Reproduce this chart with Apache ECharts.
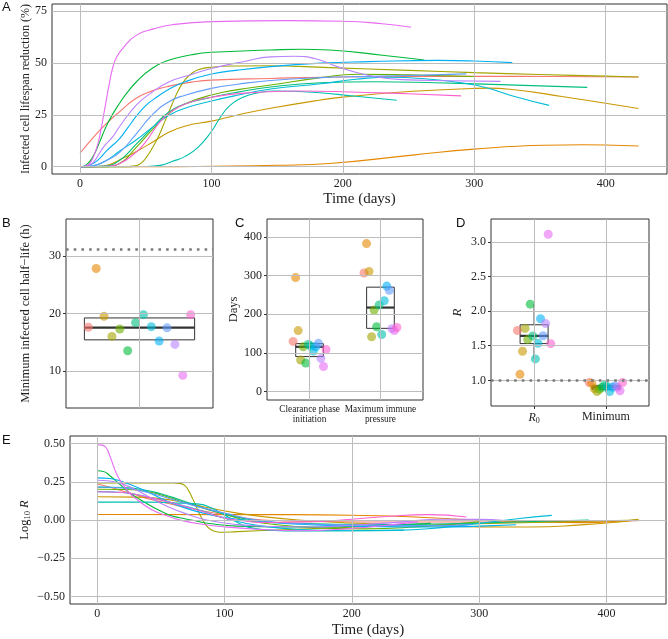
<!DOCTYPE html>
<html><head><meta charset="utf-8">
<script src="https://cdn.jsdelivr.net/npm/echarts@6/dist/echarts.min.js"></script>
<style>html,body{margin:0;padding:0;background:#fff}#c{width:668px;height:639px}</style>
</head><body><div id="c"></div>
<script>
// ---------- DATA ----------
const patientColors = ['#F8766D','#E58700','#C99800','#A3A500','#6BB100','#00BA38','#00BF7D','#00C0AF','#00BCD8','#00B0F6','#619CFF','#B983FF','#E76BF3','#FD61D1'];
// Panel B
const minHalfLife = [17.6,27.85,19.5,16.0,17.3,13.5,18.4,19.8,17.7,15.2,17.5,14.6,9.2,19.8];
const baselineHalfLife = 31.2;
// Panel C
const cCategories = ['Clearance phase\ninitiation','Maximum immune\npressure'];
const clearanceDays = [130,295,158,82,116,74,122,118,105,116,125,86,65,109];
const maxPressureDays = [307,383,311,142,211,168,224,148,235,273,262,163,158,166];
// Panel D
const dCategories = ['R0','Minimum'];
const R0 = [1.72,1.087,1.42,1.75,1.59,2.10,1.64,1.31,1.535,1.89,1.645,1.82,3.11,1.53];
const Rmin = [0.97,0.96,0.88,0.84,0.87,0.90,0.93,0.91,0.84,0.90,0.92,0.90,0.85,0.97];
const Rthreshold = 1.0;
// Tick values
const timeTicks = [0,100,200,300,400];
const aTicks = [0,25,50,75];
const bTicks = [10,20,30];
const cTicks = [0,100,200,300,400];
const dTicks = [1.0,1.5,2.0,2.5,3.0];
const eTicks = [-0.5,-0.25,0,0.25,0.5];

// Panel A: infected cell lifespan reduction (%) per patient, [day, value]
const lifespanP01 = [[0,6.5],[10,14],[20,20.8],[30,26.5],[43,33.2],[55,36.6],[68,38.9],[85,40.8],[100,41.8],[145,42.6],[185,43.2],[250,43.5],[307,43.6],[360,43.5],[425,43.3]];
const lifespanP02 = [[0,0],[60,0],[100,0.2],[150,0.7],[190,1.6],[253,5.6],[300,8.5],[353,10.4],[383,10.6],[400,10.5],[425,10]];
const lifespanP03 = [[0,0],[12,0.1],[20,0.6],[30,3.3],[43,7.4],[56,12.2],[68,16.8],[81,19.8],[100,22],[120,25],[145,28.2],[183,32.2],[200,33.6],[253,36.4],[300,37.8],[311,37.9],[327,37.4],[368,33.8],[400,30.6],[425,28.1]];
const lifespanP04 = [[0,0],[35,0],[42,0.4],[47,2],[51,5],[55,9],[60,15],[65,22.5],[70,30],[75,37],[80,42],[85,45],[90,46.8],[100,48],[120,48.6],[142,48.7],[190,47.8],[250,46.5],[300,45.4],[350,44.5],[400,43.7],[425,43.3]];
const lifespanP05 = [[0,0],[18,0],[30,1.6],[43,9.5],[56,18.5],[68,25.8],[81,30.6],[100,34.6],[120,37.2],[145,39.4],[183,43],[211,44.6],[250,44.3],[300,43.5]];
const lifespanP06 = [[0,0],[5,1],[10,5],[15,12],[20,19.5],[25,25.5],[30,30.5],[35,35],[43,41],[55,47.5],[68,51.5],[85,54],[100,55.2],[145,56.3],[168,56.7],[190,56.3],[230,53.8],[262,51.5]];
const lifespanP07 = [[0,0],[18,0.3],[30,3],[43,11],[56,19.5],[68,26.5],[81,30.5],[100,33.5],[120,36],[145,38.5],[183,40.5],[224,41],[270,40.5],[320,39.6],[386,38.3]];
const lifespanP08 = [[0,0],[50,0.1],[62,0.8],[70,2.5],[80,5],[90,9.5],[100,17],[107,24],[114,29.5],[124,33.5],[135,35.6],[148,36.5],[180,35.8],[210,34],[241,32.1]];
const lifespanP09 = [[0,0],[10,0.5],[20,3],[30,7.5],[43,13],[56,19.5],[68,25],[81,28.5],[100,31.7],[120,34.5],[145,37.5],[183,40],[210,42.2],[235,43.2],[260,42.6],[290,40.5],[310,38],[330,34],[357,29.6]];
const lifespanP10 = [[0,0],[5,0.3],[10,1.5],[15,4],[20,7.5],[30,13.5],[36,18.5],[43,24.5],[50,29.5],[56,32.5],[68,37.5],[80,41],[100,44.7],[120,46.6],[145,48.3],[183,50],[220,50.7],[273,51.3],[300,51],[329,50.2]];
const lifespanP11 = [[0,0],[10,0.5],[20,3],[30,6.8],[43,16],[55,25],[68,31.5],[80,34.5],[100,37.8],[120,39.8],[145,41.6],[183,43],[220,43.6],[262,44.2],[294,44.8]];
const lifespanP12 = [[0,0],[5,0.5],[10,2],[18,9.6],[25,14.5],[30,19.3],[43,29.8],[55,36],[68,41],[85,44.5],[100,47.4],[125,50.8],[145,53],[163,53.3],[180,52],[198,47.8],[220,44],[245,42],[280,41.5],[320,41.2]];
const lifespanP13 = [[0,0],[5,0.5],[8,2],[11,6],[14,12],[16,18],[18,25],[20,32],[22,39],[25,48],[28,53],[33,57.5],[43,63.5],[56,66.5],[70,68.5],[100,70],[158,70.5],[200,70.2],[230,69],[252,67.3]];
const lifespanP14 = [[0,0],[20,0.2],[30,1.5],[43,7.2],[50,12],[56,17.5],[62,22.5],[68,26],[81,30.5],[100,33.5],[125,35.5],[166,36.5],[200,36.2],[250,35.2],[290,34.2]];

// Panel E: log10 R per patient, [day, value]
const logRP01 = [[0,0.236],[10,0.215],[20,0.19],[30,0.165],[40,0.14],[60,0.1],[80,0.065],[100,0.035],[130,0],[170,-0.01],[250,-0.013],[307,-0.013],[360,-0.01],[425,-0.004]];
const logRP02 = [[0,0.036],[150,0.035],[200,0.031],[250,0.02],[295,0],[340,-0.012],[383,-0.017],[410,-0.008],[425,0.002]];
const logRP03 = [[0,0.152],[30,0.15],[50,0.14],[70,0.112],[90,0.075],[110,0.045],[130,0.022],[158,0],[200,-0.02],[250,-0.035],[300,-0.045],[340,-0.046],[380,-0.032],[410,-0.012],[425,0.004]];
const logRP04 = [[0,0.243],[60,0.243],[65,0.24],[69,0.225],[72,0.19],[75,0.14],[78,0.085],[81,0.03],[84,-0.015],[87,-0.048],[91,-0.07],[96,-0.08],[110,-0.076],[142,-0.065],[200,-0.047],[250,-0.035],[300,-0.025],[350,-0.015],[400,-0.005],[425,0]];
const logRP05 = [[0,0.201],[20,0.2],[35,0.192],[50,0.165],[65,0.125],[80,0.085],[100,0.038],[116,0],[140,-0.03],[170,-0.05],[211,-0.058],[250,-0.045],[300,-0.012]];
const logRP06 = [[0,0.322],[5,0.318],[10,0.29],[17,0.24],[25,0.18],[30,0.153],[43,0.089],[56,0.035],[65,0.015],[74,0],[90,-0.025],[110,-0.04],[168,-0.046],[210,-0.04],[262,-0.022]];
const logRP07 = [[0,0.215],[20,0.212],[35,0.2],[50,0.172],[65,0.132],[80,0.088],[100,0.04],[122,0],[150,-0.02],[224,-0.03],[300,-0.02],[386,0]];
const logRP08 = [[0,0.117],[40,0.117],[60,0.112],[80,0.104],[90,0.078],[98,0.042],[105,0.01],[112,-0.025],[120,-0.05],[135,-0.066],[160,-0.072],[200,-0.07],[241,-0.066]];
const logRP09 = [[0,0.186],[20,0.18],[40,0.15],[60,0.11],[80,0.065],[105,0],[130,-0.04],[160,-0.062],[200,-0.07],[235,-0.068],[270,-0.05],[300,-0.022],[330,0.008],[357,0.03]];
const logRP10 = [[0,0.276],[10,0.272],[20,0.25],[30,0.22],[43,0.17],[56,0.12],[70,0.076],[85,0.042],[100,0.016],[116,0],[150,-0.025],[200,-0.04],[273,-0.046],[300,-0.04],[329,-0.031]];
const logRP11 = [[0,0.216],[20,0.21],[40,0.18],[60,0.132],[80,0.086],[100,0.045],[125,0],[160,-0.025],[200,-0.033],[262,-0.036],[294,-0.03]];
const logRP12 = [[0,0.26],[10,0.255],[20,0.235],[30,0.2],[43,0.14],[55,0.09],[70,0.04],[86,0],[110,-0.03],[140,-0.043],[163,-0.046],[200,-0.035],[240,-0.012],[270,0.005],[300,0.004],[320,-0.004]];
const logRP13 = [[0,0.493],[4,0.49],[7,0.475],[10,0.42],[13,0.35],[16,0.29],[20,0.235],[25,0.18],[30,0.142],[43,0.067],[56,0.024],[65,0],[80,-0.025],[100,-0.045],[130,-0.062],[158,-0.07],[200,-0.055],[230,-0.032],[252,-0.012]];
const logRP14 = [[0,0.185],[20,0.18],[40,0.15],[60,0.11],[80,0.062],[109,0],[140,-0.016],[166,-0.013],[200,0.005],[230,0.025],[260,0.035],[290,0.02]];

const lifespanCurves = [lifespanP01,lifespanP02,lifespanP03,lifespanP04,lifespanP05,lifespanP06,lifespanP07,lifespanP08,lifespanP09,lifespanP10,lifespanP11,lifespanP12,lifespanP13,lifespanP14];
const logRCurves = [logRP01,logRP02,logRP03,logRP04,logRP05,logRP06,logRP07,logRP08,logRP09,logRP10,logRP11,logRP12,logRP13,logRP14];

// ---------- HELPERS ----------
const serif = "'Liberation Serif','Times New Roman',serif";
const sans = "'Liberation Sans',Arial,sans-serif";
const N = patientColors.length;
function dodge(center, i, width){ return center + (i - (N-1)/2) * width / N; }
function quantile(s, p){ const h=(s.length-1)*p, lo=Math.floor(h); const hi=Math.min(lo+1, s.length-1); return s[lo] + (h-lo)*(s[hi]-s[lo]); }
function boxStats(x, vals){
  const s=[...vals].sort((a,b)=>a-b);
  const q1=quantile(s,.25), md=quantile(s,.5), q3=quantile(s,.75), iqr=q3-q1;
  const lo=Math.min(...s.filter(v=>v>=q1-1.5*iqr)), hi=Math.max(...s.filter(v=>v<=q3+1.5*iqr));
  return [x,lo,q1,md,q3,hi];
}
function boxSeries(xi, yi, data, boxW){
  return {type:'custom', xAxisIndex:xi, yAxisIndex:yi, z:3, silent:true, data:data,
    encode:{x:0, y:[1,2,3,4,5]},
    renderItem:function(params, api){
      const x=api.value(0);
      const lo=api.coord([x,api.value(1)]), q1=api.coord([x,api.value(2)]), md=api.coord([x,api.value(3)]), q3=api.coord([x,api.value(4)]), hi=api.coord([x,api.value(5)]);
      const w=api.size([boxW,0])[0];
      const st={stroke:'#333', lineWidth:1};
      return {type:'group', children:[
        {type:'line', shape:{x1:lo[0],y1:lo[1],x2:q1[0],y2:q1[1]}, style:st},
        {type:'line', shape:{x1:q3[0],y1:q3[1],x2:hi[0],y2:hi[1]}, style:st},
        {type:'rect', shape:{x:q3[0]-w/2,y:q3[1],width:w,height:q1[1]-q3[1]}, style:{stroke:'#333',lineWidth:1,fill:'#fff'}},
        {type:'line', shape:{x1:md[0]-w/2,y1:md[1],x2:md[0]+w/2,y2:md[1]}, style:{stroke:'#333',lineWidth:2.2}}
      ]};
    }};
}
function gridLines(xi, yi, xs, ys){
  return {type:'line', xAxisIndex:xi, yAxisIndex:yi, data:[], silent:true, z:1,
    markLine:{silent:true, symbol:['none','none'], animation:false, label:{show:false},
      lineStyle:{color:'#bdbdbd', width:1, type:'solid'}, emphasis:{disabled:true},
      data:[...xs.map(v=>({xAxis:v})), ...ys.map(v=>({yAxis:v}))]}};
}
function dottedLine(xi, yi, y){
  return {type:'line', xAxisIndex:xi, yAxisIndex:yi, data:[], silent:true, z:2,
    markLine:{silent:true, symbol:['none','none'], animation:false, label:{show:false},
      lineStyle:{color:'#7a7a7a', width:2.6, type:[2.6,5.1], cap:'butt'}, emphasis:{disabled:true},
      data:[{yAxis:y}]}};
}
function axis(grid, min, max, ticks, extra){
  const a = {type:'value', gridIndex:grid, min:min, max:max, splitLine:{show:false},
    axisLine:{show:false}, nameMoveOverlap:false,
    axisTick:{show:true, length:3, customValues:ticks, lineStyle:{color:'#333', width:1}},
    axisLabel:{customValues:ticks, fontFamily:serif, fontSize:12, color:'#222', margin:4}};
  if (extra) {
    for (const k in extra) {
      if (typeof extra[k]==='object' && a[k] && !Array.isArray(extra[k])) a[k]=Object.assign({}, a[k], extra[k]);
      else a[k]=extra[k];
    }
  }
  return a;
}
function scatterData(groups){
  const out=[];
  groups.forEach(g=>g.vals.forEach((v,i)=>out.push({value:[dodge(g.x,i,g.w), v], itemStyle:{color:patientColors[i], opacity:0.6}})));
  return out;
}
const nameStyle = {fontFamily:serif, fontSize:12.5, color:'#222'};

// ---------- OPTION ----------
const series = [];
series.push(gridLines(0,0,timeTicks,aTicks));
series.push(gridLines(1,1,[1],bTicks));
series.push(gridLines(2,2,[1,2],cTicks));
series.push(gridLines(3,3,[1,2],dTicks));
series.push(gridLines(4,4,timeTicks,eTicks));
series.push(dottedLine(1,1,baselineHalfLife));
series.push(dottedLine(3,3,Rthreshold));

const lineBase = {type:'line', showSymbol:false, smooth:0.5, silent:true, z:3};
lifespanCurves.forEach((d,i)=>series.push(Object.assign({}, lineBase, {xAxisIndex:0, yAxisIndex:0, data:d, lineStyle:{color:patientColors[i], width:1.1}})));
logRCurves.forEach((d,i)=>series.push(Object.assign({}, lineBase, {xAxisIndex:4, yAxisIndex:4, data:d, lineStyle:{color:patientColors[i], width:1.1}})));

series.push(boxSeries(1,1,[boxStats(1,minHalfLife)],0.9));
series.push(boxSeries(2,2,[boxStats(1,clearanceDays), boxStats(2,maxPressureDays)],0.39));
series.push(boxSeries(3,3,[boxStats(1,R0), boxStats(2,Rmin)],0.39));

const sc = {type:'scatter', symbolSize:9, silent:true, z:4};
series.push(Object.assign({}, sc, {xAxisIndex:1, yAxisIndex:1, data:scatterData([{x:1, w:0.9, vals:minHalfLife}])}));
series.push(Object.assign({}, sc, {xAxisIndex:2, yAxisIndex:2, data:scatterData([{x:1, w:0.5, vals:clearanceDays},{x:2, w:0.5, vals:maxPressureDays}])}));
series.push(Object.assign({}, sc, {xAxisIndex:3, yAxisIndex:3, data:scatterData([{x:1, w:0.5, vals:R0},{x:2, w:0.5, vals:Rmin}])}));

const gridBase = {show:true, borderColor:'#333', borderWidth:1, backgroundColor:'#fff', containLabel:false};
const option = {
  animation:false,
  grid:[
    Object.assign({left:52, top:4, width:615, height:170}, gridBase),
    Object.assign({left:66, top:219, width:147, height:189}, gridBase),
    Object.assign({left:267, top:219, width:156, height:181}, gridBase),
    Object.assign({left:491, top:219, width:158, height:187}, gridBase),
    Object.assign({left:70, top:436, width:596, height:169}, gridBase)
  ],
  xAxis:[
    axis(0,-21.3,446.7,timeTicks,{name:'Time (days)', nameLocation:'middle', nameGap:18, nameTextStyle:{fontFamily:serif, fontSize:15, color:'#222', verticalAlign:'top'}}),
    axis(1,0.4,1.6,[],{axisTick:{show:false}, axisLabel:{show:false}}),
    axis(2,0.4,2.6,[1,2],{axisLabel:{customValues:[1,2], fontFamily:serif, fontSize:9.3, lineHeight:10.5, color:'#222', margin:4, formatter:v=>cCategories[Math.round(v)-1]||''}}),
    axis(3,0.4,2.6,[1,2],{axisLabel:{customValues:[1,2], fontFamily:serif, fontSize:12, color:'#222', margin:5,
      formatter:v=>{const c=dCategories[Math.round(v)-1]; return c==='R0' ? '{i|R}{s|0}' : (c||'');},
      rich:{i:{fontStyle:'italic', fontFamily:serif, fontSize:12, lineHeight:14, color:'#222'}, s:{fontFamily:serif, fontSize:8, lineHeight:6, verticalAlign:'bottom', color:'#222'}}}}),
    axis(4,-21.3,446.7,timeTicks,{name:'Time (days)', nameLocation:'middle', nameGap:19, nameTextStyle:{fontFamily:serif, fontSize:15, color:'#222', verticalAlign:'top'}})
  ],
  yAxis:[
    axis(0,-3.5,78.5,aTicks,{name:'Infected cell lifespan reduction (%)', nameLocation:'middle', nameGap:20, nameTextStyle:Object.assign({}, nameStyle, {fontSize:12}), axisLabel:{margin:5}}),
    axis(1,3.5,36.5,bTicks,{name:'Minimum infected cell half\u2212life (h)', nameLocation:'middle', nameGap:34, nameTextStyle:nameStyle, axisLabel:{margin:5}}),
    axis(2,-21.5,446.5,cTicks,{name:'Days', nameLocation:'middle', nameGap:27, nameTextStyle:nameStyle, axisLabel:{margin:5}}),
    axis(3,0.63,3.33,dTicks,{name:'R', nameLocation:'middle', nameGap:27, nameTextStyle:Object.assign({}, nameStyle, {fontStyle:'italic', fontSize:13}), axisLabel:{margin:5, formatter:v=>v.toFixed(1)}}),
    axis(4,-0.55,0.55,eTicks,{name:'{n|Log}{s|10}{n| }{i|R}', nameLocation:'middle', nameGap:38,
      nameTextStyle:Object.assign({}, nameStyle, {rich:{n:{fontFamily:serif, fontSize:12.5, lineHeight:14, color:'#222'}, i:{fontFamily:serif, fontStyle:'italic', fontSize:12.5, lineHeight:14, color:'#222'}, s:{fontFamily:serif, fontSize:8.5, lineHeight:6, verticalAlign:'bottom', color:'#222'}}}),
      axisLabel:{margin:5, formatter:v=>(v<0?'\u2212':'')+Math.abs(v).toFixed(2)}})
  ],
  graphic:[
    {type:'text', left:2, top:1, style:{text:'A', font:'13px '+sans, fill:'#111'}},
    {type:'text', left:2, top:217, style:{text:'B', font:'13px '+sans, fill:'#111'}},
    {type:'text', left:235, top:217, style:{text:'C', font:'13px '+sans, fill:'#111'}},
    {type:'text', left:456, top:217, style:{text:'D', font:'13px '+sans, fill:'#111'}},
    {type:'text', left:2, top:434, style:{text:'E', font:'13px '+sans, fill:'#111'}}
  ],
  series:series
};
const chart = echarts.init(document.getElementById('c'), null, {renderer:'canvas'});
chart.setOption(option);
</script>
</body></html>
